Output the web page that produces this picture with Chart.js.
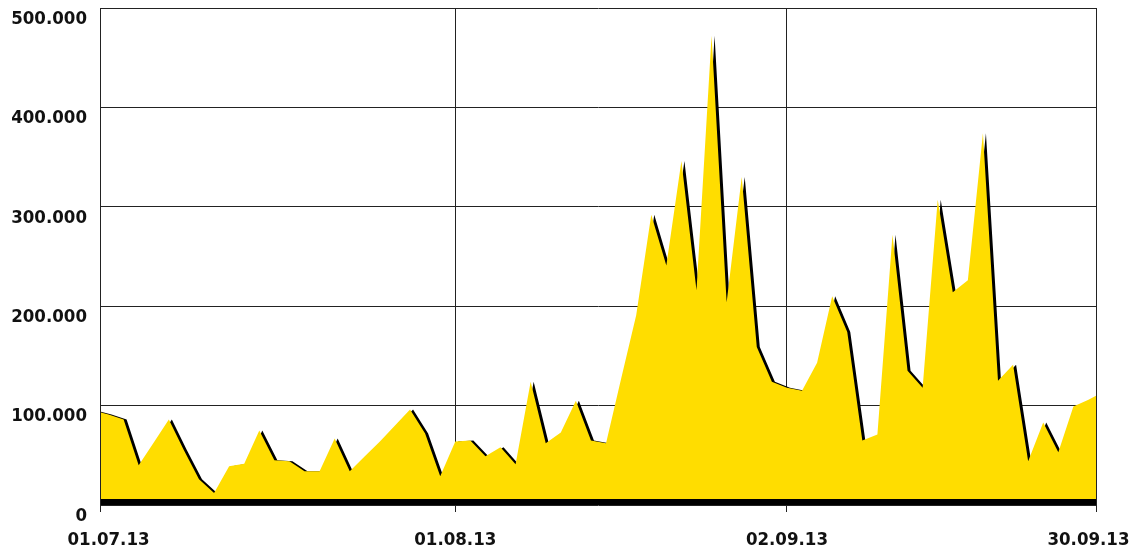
<!DOCTYPE html>
<html>
<head>
<meta charset="utf-8">
<script src="https://cdn.jsdelivr.net/npm/chart.js@4"></script>
<style>
  html, body { margin: 0; padding: 0; background: #fff; }
  #wrap { width: 1136px; height: 553px; }
</style>
</head>
<body>
<div id="wrap"><canvas id="myChart" width="1136" height="553"></canvas></div>
<script>
// working days, one point each (first and last run past the visible range)
const dates = [
  '28.06.13',
  '01.07.13', '02.07.13', '03.07.13', '04.07.13', '05.07.13',
  '08.07.13', '09.07.13', '10.07.13', '11.07.13', '12.07.13',
  '15.07.13', '16.07.13', '17.07.13', '18.07.13', '19.07.13',
  '22.07.13', '23.07.13', '24.07.13', '25.07.13', '26.07.13',
  '29.07.13', '30.07.13', '31.07.13',
  '01.08.13', '02.08.13',
  '05.08.13', '06.08.13', '07.08.13', '08.08.13', '09.08.13',
  '12.08.13', '13.08.13', '14.08.13', '15.08.13', '16.08.13',
  '19.08.13', '20.08.13', '21.08.13', '22.08.13', '23.08.13',
  '26.08.13', '27.08.13', '28.08.13', '29.08.13', '30.08.13',
  '02.09.13', '03.09.13', '04.09.13', '05.09.13', '06.09.13',
  '09.09.13', '10.09.13', '11.09.13', '12.09.13', '13.09.13',
  '16.09.13', '17.09.13', '18.09.13', '19.09.13', '20.09.13',
  '23.09.13', '24.09.13', '25.09.13', '26.09.13', '27.09.13',
  '30.09.13',
  '01.10.13'
];

const values = [
  95000,
  91000, 86000, 40000, 63000, 86000,
  55000, 26000, 12000, 39000, 41500,
  75000, 45000, 44000, 34000, 34000,
  67000, 34000, 49000, 64000, 80000,
  96000, 72000, 29000,
  64000, 65000,
  49000, 58000, 41000, 124000, 62000,
  73000, 105000, 65000, 62000, 127000,
  191000, 292000, 241000, 346000, 216000,
  472000, 204000, 330000, 159000, 124000,
  118000, 115000, 143000, 210000, 174000,
  65000, 71000, 272000, 135000, 118000,
  307000, 214000, 226000, 374000, 125000,
  141000, 44000, 83000, 53000, 99000,
  106000,
  114000
];

const tickDates = ['01.07.13', '01.08.13', '02.09.13', '30.09.13'];

const fmt = v => String(v).replace(/\B(?=(\d{3})+(?!\d))/g, '.');

// black drop shadow under the area, thick base bar and frame
const chartDeco = {
  id: 'chartDeco',
  beforeDatasetsDraw(chart) {
    const ctx = chart.ctx;
    ctx.save();
    ctx.shadowColor = '#000';
    ctx.shadowOffsetX = 3;
    ctx.shadowOffsetY = 0;
    ctx.shadowBlur = 0;
  },
  afterDatasetsDraw(chart) {
    const ctx = chart.ctx;
    ctx.restore();
    const a = chart.chartArea;
    ctx.save();
    ctx.fillStyle = '#000';
    ctx.fillRect(a.left, a.bottom - 6, a.right - a.left, 6);
    ctx.strokeStyle = '#222';
    ctx.lineWidth = 1;
    ctx.beginPath();
    ctx.moveTo(Math.round(a.left) - 0.5, a.top);
    ctx.lineTo(Math.round(a.left) - 0.5, a.bottom + 7);
    ctx.moveTo(Math.round(a.right) + 0.5, a.top);
    ctx.lineTo(Math.round(a.right) + 0.5, a.bottom + 7);
    ctx.stroke();
    ctx.restore();
  }
};

const labelFont = { family: 'DejaVu Sans Condensed', weight: 'bold', size: 18.5 };

const config = {
  type: 'line',
  data: {
    datasets: [{
      data: values.map((v, i) => ({ x: i, y: v })),
      backgroundColor: '#FFDD00',
      borderColor: 'rgba(0,0,0,0)',
      borderWidth: 1,
      pointRadius: 0,
      fill: 'origin',
      tension: 0
    }]
  },
  options: {
    responsive: false,
    animation: false,
    layout: { padding: 0 },
    plugins: {
      legend: { display: false },
      tooltip: { enabled: false }
    },
    scales: {
      x: {
        type: 'linear',
        min: 0.5,
        max: dates.length - 1.5,
        afterBuildTicks: scale => {
          scale.ticks = tickDates.map(d => ({ value: dates.indexOf(d) }));
        },
        afterFit: scale => {
          scale.height = 48;
          scale.paddingLeft = 0;
          scale.paddingRight = 40;
        },
        border: { display: false },
        grid: {
          color: c => (c.index === 0 || c.index === tickDates.length - 1) ? 'rgba(0,0,0,0)' : '#222',
          lineWidth: 1,
          tickLength: 7
        },
        ticks: {
          autoSkip: false,
          maxRotation: 0,
          padding: 17,
          color: '#111',
          font: labelFont,
          callback: v => dates[v]
        }
      },
      y: {
        min: 0,
        max: 500000,
        afterFit: scale => {
          scale.width = 101;
          scale.paddingTop = 8;
          scale.paddingBottom = 0;
        },
        border: { display: false },
        grid: {
          color: '#222',
          lineWidth: 1,
          drawTicks: false
        },
        ticks: {
          stepSize: 100000,
          padding: 14,
          labelOffset: 11,
          color: '#111',
          font: labelFont,
          callback: v => fmt(v)
        }
      }
    }
  },
  plugins: [chartDeco]
};

const myChart = new Chart(document.getElementById('myChart'), config);
</script>
</body>
</html>
